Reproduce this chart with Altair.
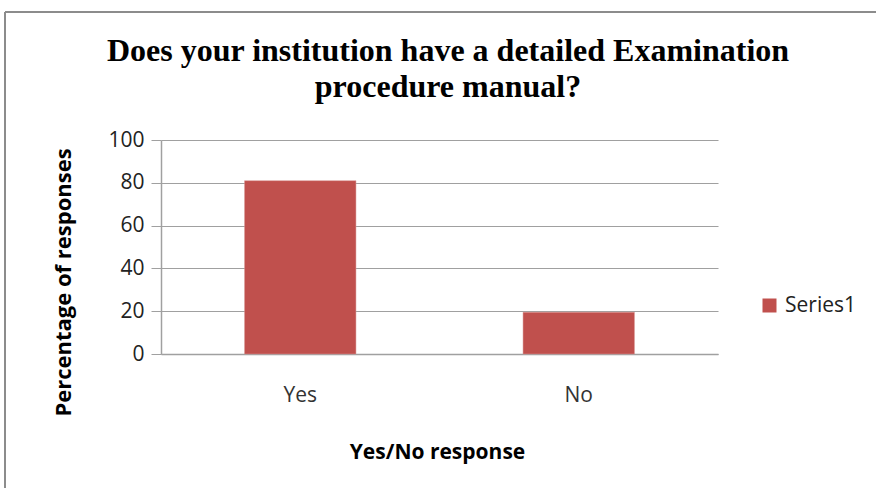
import altair as alt
import pandas as pd

categories = ["Yes", "No"]
values = [81, 19.5]
series = ["Series1", "Series1"]
title_text = "Does your institution have a detailed Examination\nprocedure manual?"

df = pd.DataFrame({"response": categories, "pct": values, "series": series})

bars = alt.Chart(df).mark_bar(color="#C0504D", stroke="#D99694", strokeWidth=0.5).encode(
    x=alt.X("response:N", sort=categories,
            scale=alt.Scale(paddingInner=0.6, paddingOuter=0.3),
            axis=alt.Axis(title="Yes/No response", labelAngle=0, ticks=False,
                          domain=True, domainColor="#A0A0A0", domainWidth=1.5,
                          labelPadding=30, labelFontSize=21, labelFont="Open Sans",
                          labelColor="#333333",
                          titleFont="Open Sans", titleFontSize=21, titleFontWeight="bold",
                          titleColor="#000000", titleBaseline="alphabetic", titleY=104,
                          titleX=276, titleAlign="center")),
    y=alt.Y("pct:Q", scale=alt.Scale(domain=[0, 100]),
            axis=alt.Axis(title="Percentage of responses", values=[0, 20, 40, 60, 80, 100],
                          tickSize=10, tickColor="#A0A0A0", domainColor="#A0A0A0",
                          domainWidth=1.5, gridColor="#A0A0A0", gridWidth=1.2,
                          labelPadding=7, labelFontSize=21, labelFont="Open Sans",
                          labelColor="#222222",
                          titleFont="Open Sans", titleFontSize=22, titleFontWeight="bold",
                          titleColor="#000000", titleX=-98, titleY=142, titleAngle=270,
                          titleBaseline="middle", titleAlign="center")),
    fill=alt.Fill("series:N", scale=alt.Scale(range=["#C0504D"]),
                  legend=alt.Legend(title=None, orient="none", legendX=598, legendY=155,
                                    symbolType="square", symbolSize=196, symbolStrokeWidth=0,
                                    labelFont="Open Sans", labelFontSize=21, labelColor="#222222",
                                    labelOffset=5, padding=0)),
)

frame_df = pd.DataFrame({"k": [0]})
top_border = alt.Chart(frame_df).mark_rule(color="#8C8C8C", strokeWidth=2).encode(
    x=alt.value(-156), x2=alt.value(760), y=alt.value(-128))
left_border = alt.Chart(frame_df).mark_rule(color="#8C8C8C", strokeWidth=2).encode(
    x=alt.value(-156), y=alt.value(-128), y2=alt.value(400))

title_df = pd.DataFrame({"t": [title_text]})
title = alt.Chart(title_df).mark_text(
    font="Liberation Serif", fontSize=32, fontWeight="bold", color="#000000",
    align="center", baseline="alphabetic", lineBreak="\n", lineHeight=36,
).encode(text="t:N", x=alt.value(287), y=alt.value(-79))

chart = alt.layer(bars, top_border, left_border, title).properties(
    width=557, height=214,
    padding={"left": 161, "top": 140, "right": 158, "bottom": 134},
    autosize=alt.AutoSizeParams(type="none"),
).configure_view(stroke=None).configure_axis(grid=True).configure_axisX(grid=False)

chart.save("out.html", embed_options={"renderer": "svg", "actions": False})
